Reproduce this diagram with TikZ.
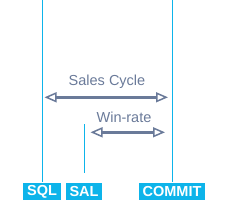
\documentclass[tikz,border=0pt]{standalone}
\usepackage{fontspec}
\setmainfont{Liberation Sans}
\usetikzlibrary{arrows.meta}
\definecolor{cyanbox}{HTML}{0DB4EA}
\definecolor{arrowgray}{HTML}{6A7A99}
\tikzset{
  tag/.style={fill=cyanbox, text=white, font=\bfseries\fontsize{14.5}{14.5}\selectfont, inner xsep=3pt, inner ysep=2pt, minimum height=17pt, anchor=center},
  mark line/.style={draw=cyanbox, line width=1pt},
  span/.style={draw=arrowgray, line width=2.4pt, {Triangle[open, length=12pt, width=10pt, line width=1.5pt]}-{Triangle[open, length=12pt, width=10pt, line width=1.5pt]}},
  lbl/.style={text=arrowgray, font=\fontsize{14.5}{14.5}\selectfont}
}
\begin{document}
\begin{tikzpicture}[x=1pt,y=1pt]
\useasboundingbox (0,0) rectangle (244,-204);
\node[tag, minimum width=38pt] (sql) at (42,-191.5) {SQL};
\node[tag, minimum width=36pt] (sal) at (84,-191.5) {SAL};
\node[tag, minimum width=66pt] (commit) at (172,-191.5) {COMMIT};
\coordinate (sqltop) at (42,0);
\coordinate (committop) at (172.3,0);
\coordinate (saltop) at (84.3,-124);
\coordinate (salbot) at (84.3,-173);
\coordinate (sqlbot) at (42,-182);
\coordinate (commitbot) at (172.3,-182);
\draw[mark line] (sqltop) -- (sqlbot);
\draw[mark line] (committop) -- (commitbot);
\draw[mark line] (saltop) -- (salbot);
\coordinate (scl) at (44.5,-97.3);
\coordinate (scr) at (168,-97.3);
\coordinate (wrl) at (90.5,-132.3);
\coordinate (wrr) at (165,-132.3);
\draw[span] (scl) -- (scr);
\draw[span] (wrl) -- (wrr);
\node[lbl] (sclbl) at (107,-82) {Sales Cycle};
\node[lbl] (wrlbl) at (124,-117) {Win-rate};
\end{tikzpicture}
\end{document}
